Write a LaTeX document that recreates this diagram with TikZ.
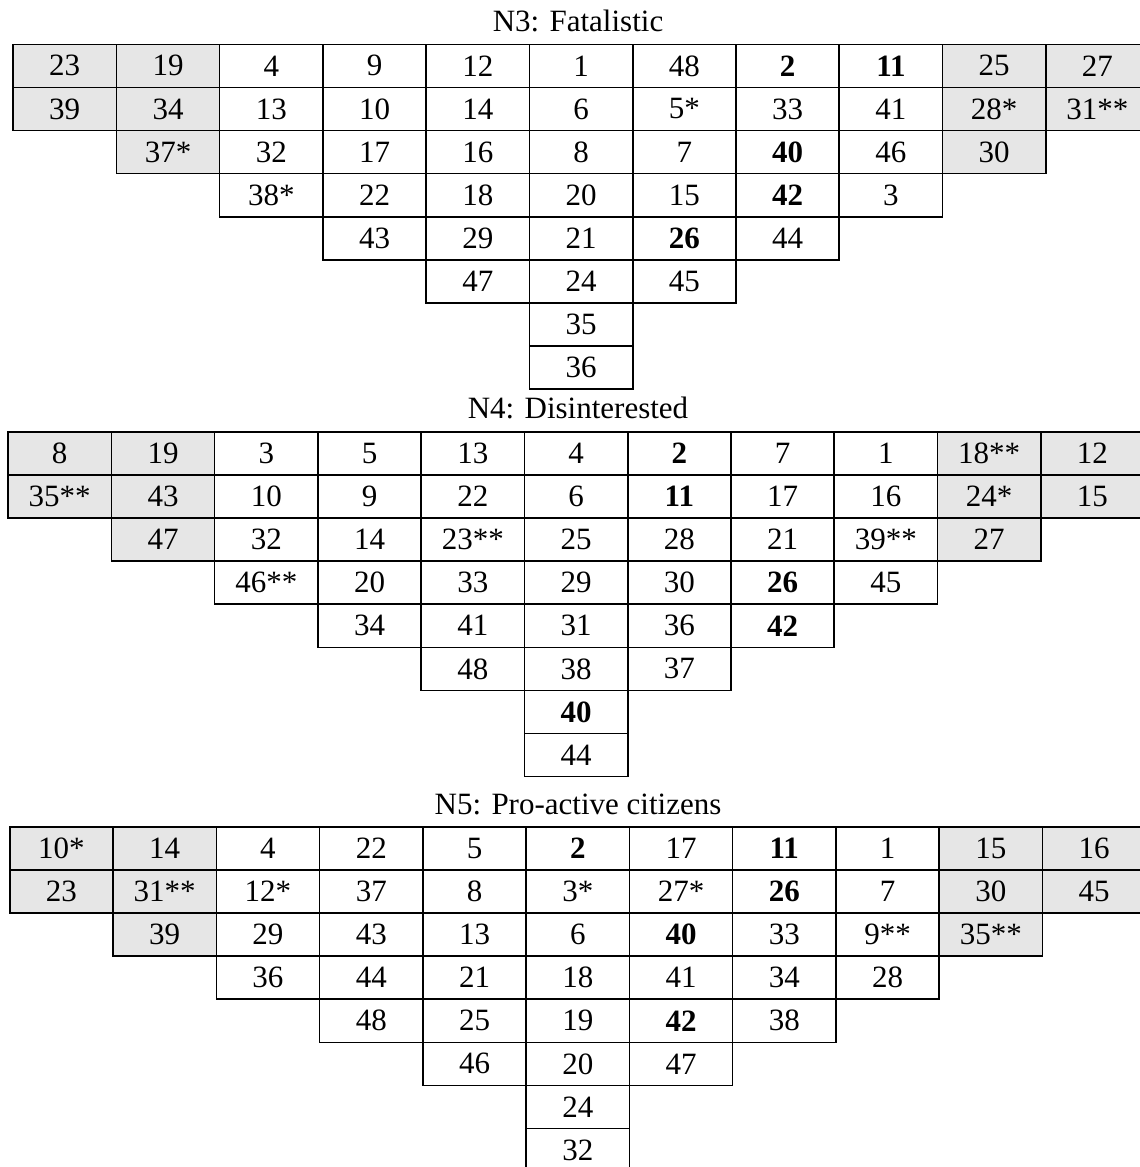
\documentclass[tikz,border=0pt]{standalone}
\usepackage{fontspec}
\setmainfont{Liberation Serif}
\definecolor{cellgray}{HTML}{E6E6E6}
\tikzset{
  cellbox/.style={draw=black, line width=1.6pt, rectangle, inner sep=0pt,
    minimum width=103.27pt, minimum height=43.1pt, anchor=north west,
    font=\fontsize{31}{36}\selectfont},
  gtitle/.style={anchor=base, inner sep=0pt, font=\fontsize{31}{37}\selectfont}
}
\newcommand{\qgrid}[4]{% #1 grid id, #2 left, #3 top, #4 list
  \foreach \col/\fc/\lst in {#4} {
    \foreach \v [count=\r] in \lst {
      \node[cellbox, fill=\fc] (g#1c\col r\r)
        at ({#2+(\col-1)*103.27}, {#3+(\r-1)*43.1}) {\v};
    }
  }
}
\begin{document}
\begin{tikzpicture}[x=1pt,y=-1pt]
\useasboundingbox (0,0) rectangle (1140,1167);
% ---------- N3
\node[gtitle] (t1) at (578,31.7) {N3: Fatalistic};
\qgrid{1}{12.3}{43.5}{
 1/cellgray/{23,39},
 2/cellgray/{19,34,37*},
 3/white/{4,13,32,38*},
 4/white/{9,10,17,22,43},
 5/white/{12,14,16,18,29,47},
 6/white/{1,6,8,20,21,24,35,36},
 7/white/{48,5*,7,15,{\textbf{26}},45},
 8/white/{{\textbf{2}},33,{\textbf{40}},{\textbf{42}},44},
 9/white/{{\textbf{11}},41,46,3},
 10/cellgray/{25,28*,30},
 11/cellgray/{27,31**}}
% ---------- N4
\node[gtitle] (t2) at (578,418) {N4: Disinterested};
\qgrid{2}{7.3}{431}{
 1/cellgray/{8,35**},
 2/cellgray/{19,43,47},
 3/white/{3,10,32,46**},
 4/white/{5,9,14,20,34},
 5/white/{13,22,23**,33,41,48},
 6/white/{4,6,25,29,31,38,{\textbf{40}},44},
 7/white/{{\textbf{2}},{\textbf{11}},28,30,36,37},
 8/white/{7,17,21,{\textbf{26}},{\textbf{42}}},
 9/white/{1,16,39**,45},
 10/cellgray/{18**,24*,27},
 11/cellgray/{12,15}}
% ---------- N5
\node[gtitle] (t3) at (578,814) {N5: Pro-active citizens};
\qgrid{3}{9}{826}{
 1/cellgray/{10*,23},
 2/cellgray/{14,31**,39},
 3/white/{4,12*,29,36},
 4/white/{22,37,43,44,48},
 5/white/{5,8,13,21,25,46},
 6/white/{{\textbf{2}},3*,6,18,19,20,24,32},
 7/white/{17,27*,{\textbf{40}},41,{\textbf{42}},47},
 8/white/{{\textbf{11}},{\textbf{26}},33,34,38},
 9/white/{1,7,9**,28},
 10/cellgray/{15,30,35**},
 11/cellgray/{16,45}}
\end{tikzpicture}
\end{document}
